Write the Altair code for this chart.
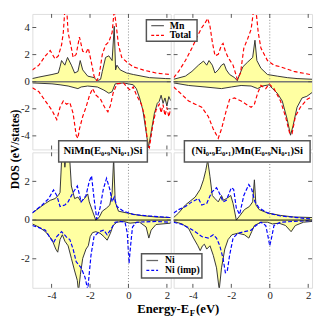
import altair as alt
import pandas as pd

# ---------------- data ----------------
XDOM = [-5, 2.2]
XTICKS = [-4, -2, 0, 2]
TOP_YDOM = [-5, 5]
TOP_YTICKS = [-4, -2, 0, 2, 4]
BOT_YDOM = [-3.5, 3.5]
BOT_YTICKS = [-2, 0, 2]

# top-left: NiMn(E0.9Ni0.1)Si, Mn PDOS and Total
tl_mn_up_e = [-5.0, -4.66, -3.98, -3.65, -3.56, -3.48, -3.31, -3.17, -2.97, -2.80, -2.63, -2.51, -2.38, -2.12, -1.79, -1.62, -1.45, -1.36, -1.19, -1.02, -0.85, -0.74, -0.67, -0.60, -0.43, -0.09, 0.25, 1.09, 1.94, 2.2]
tl_mn_up_d = [0.23, 0.34, 0.53, 0.64, 1.10, 1.56, 1.22, 1.79, 1.22, 0.64, 0.76, 1.56, 0.87, 0.41, 0.30, 0.07, 0.18, 0.76, 1.79, 1.91, 1.56, 4.09, 0.87, 1.22, 0.87, 0.64, 0.53, 0.30, 0.23, 0.22]
tl_mn_dn_e = [-5.0, -3.98, -3.56, -3.14, -2.63, -2.46, -2.12, -1.62, -1.28, -1.02, -0.85, -0.69, -0.26, -0.01, 0.25, 0.41, 0.58, 0.75, 0.92, 1.04, 1.18, 1.35, 1.50, 1.6, 1.7, 1.8, 1.9, 2.0, 2.1, 2.2]
tl_mn_dn_d = [-0.09, -0.16, -0.23, -0.32, -0.51, -0.39, -0.32, -0.39, -0.62, -0.85, -0.74, -0.16, -0.09, -0.16, -0.23, -0.51, -1.20, -2.11, -3.72, -4.87, -3.72, -2.34, -1.6, -1.45, -1.0, -1.6, -1.2, -1.8, -1.1, -1.4]
tl_tot_up_e = [-5.0, -4.66, -4.32, -4.07, -3.82, -3.65, -3.48, -3.39, -3.31, -3.21, -3.14, -2.97, -2.88, -2.72, -2.55, -2.38, -2.21, -2.09, -1.95, -1.79, -1.65, -1.53, -1.36, -1.19, -1.02, -0.85, -0.74, -0.63, -0.52, -0.35, -0.09, 0.25, 0.75, 1.43, 2.2]
tl_tot_up_d = [0.87, 1.22, 1.91, 2.30, 1.68, 1.91, 2.71, 3.63, 5.3, 5.3, 3.63, 2.48, 1.79, 2.02, 3.29, 2.25, 2.14, 2.48, 1.56, 0.41, 0.07, 0.41, 2.02, 2.71, 2.94, 3.63, 5.3, 4.09, 2.71, 1.79, 1.45, 1.10, 0.87, 0.64, 0.52]
tl_tot_dn_e = [-5.0, -4.66, -4.32, -3.98, -3.73, -3.56, -3.39, -3.22, -3.05, -2.88, -2.72, -2.63, -2.55, -2.38, -2.21, -2.04, -1.87, -1.70, -1.45, -1.24, -1.07, -0.94, -0.80, -0.60, -0.26, -0.01, 0.11, 0.25, 0.41, 0.67, 0.84, 1.01, 1.09, 1.26, 1.43, 1.6, 1.7, 1.8, 1.9, 2.0, 2.1, 2.2]
tl_tot_dn_d = [-0.44, -0.74, -1.43, -2.11, -2.80, -1.89, -1.43, -1.66, -1.54, -2.34, -3.95, -4.18, -3.49, -2.57, -1.89, -1.08, -0.51, -0.97, -1.31, -1.89, -2.23, -1.77, -0.85, -0.16, -0.09, -0.51, -0.62, -0.39, -0.97, -1.66, -2.57, -4.64, -4.87, -3.26, -2.11, -1.66, -2.3, -1.7, -2.5, -1.9, -2.6, -2.0]

# top-right: (Ni0.9E0.1)Mn(E0.9Ni0.1)Si, Mn PDOS and Total
tr_mn_up_e = [-5.0, -4.39, -4.05, -3.71, -3.45, -3.28, -3.16, -2.99, -2.85, -2.68, -2.51, -2.38, -2.26, -2.09, -1.83, -1.69, -1.57, -1.40, -1.15, -0.89, -0.77, -0.67, -0.46, -0.12, 0.39, 0.91, 1.42, 2.2]
tr_mn_up_d = [0.18, 0.41, 0.76, 1.22, 1.52, 1.22, 1.56, 1.22, 0.64, 0.87, 1.22, 1.33, 0.87, 0.53, 0.30, 0.07, 0.53, 1.10, 1.45, 1.79, 3.06, 1.56, 0.99, 0.53, 0.41, 0.30, 0.23, 0.18]
tr_mn_dn_e = [-5.0, -4.22, -3.37, -2.51, -2.0, -1.49, -0.97, -0.63, -0.38, -0.03, 0.14, 0.39, 0.65, 0.91, 1.08, 1.21, 1.42, 1.68, 1.93, 2.2]
tr_mn_dn_d = [-0.09, -0.28, -0.39, -0.51, -0.39, -0.28, -0.32, -0.51, -0.32, -0.23, -0.51, -0.85, -1.43, -2.80, -3.95, -3.26, -1.89, -1.20, -1.08, -0.8]
tr_tot_up_e = [-5.0, -4.74, -4.39, -4.05, -3.79, -3.54, -3.37, -3.23, -3.11, -2.99, -2.85, -2.68, -2.51, -2.43, -2.31, -2.17, -1.91, -1.69, -1.52, -1.35, -1.15, -0.97, -0.84, -0.72, -0.60, -0.46, -0.12, 0.22, 0.56, 1.25, 2.10, 2.2]
tr_tot_up_d = [0.30, 0.76, 1.56, 2.48, 3.29, 3.98, 4.32, 4.67, 4.09, 2.94, 1.91, 2.02, 2.71, 2.83, 2.25, 1.79, 1.22, 0.18, 0.64, 2.48, 3.17, 3.86, 5.3, 5.3, 3.63, 2.48, 1.56, 1.22, 1.10, 0.76, 0.53, 0.52]
tr_tot_dn_e = [-5.0, -4.56, -4.22, -3.88, -3.54, -3.20, -2.94, -2.68, -2.51, -2.26, -2.09, -1.83, -1.49, -1.23, -0.97, -0.80, -0.63, -0.46, -0.21, -0.03, 0.22, 0.56, 0.82, 1.04, 1.16, 1.33, 1.59, 1.93, 2.2]
tr_tot_dn_d = [-0.39, -0.97, -1.43, -1.66, -1.89, -2.57, -3.49, -4.18, -3.49, -2.11, -1.31, -1.20, -1.43, -1.66, -1.89, -1.66, -0.85, -0.28, -0.51, -0.16, -0.51, -1.43, -2.57, -3.84, -3.84, -2.57, -1.89, -1.31, -1.1]

# bottom-left: Ni PDOS and Ni (imp)
bl_ni_up_e = [-5.0, -4.66, -4.32, -4.07, -3.82, -3.65, -3.56, -3.48, -3.39, -3.31, -3.19, -3.05, -2.97, -2.80, -2.63, -2.46, -2.29, -2.12, -2.04, -1.87, -1.70, -1.53, -1.36, -1.14, -0.97, -0.85, -0.77, -0.69, -0.52, -0.09, 0.58, 1.43, 2.2]
bl_ni_up_d = [0.37, 0.62, 0.86, 1.02, 1.11, 1.27, 1.43, 3.06, 3.9, 2.73, 3.9, 3.06, 1.76, 1.11, 1.19, 0.94, 1.11, 1.35, 0.94, 0.46, 0.0, 0.13, 0.46, 0.62, 0.78, 1.43, 3.22, 0.94, 0.46, 0.37, 0.24, 0.16, 0.13]
bl_ni_dn_e = [-5.0, -4.66, -4.32, -3.98, -3.78, -3.68, -3.56, -3.44, -3.31, -3.14, -2.97, -2.80, -2.66, -2.60, -2.50, -2.38, -2.21, -2.09, -1.99, -1.87, -1.70, -1.48, -1.28, -1.11, -0.94, -0.80, -0.60, -0.26, 0.08, 0.58, 0.92, 1.06, 1.18, 1.43, 2.2]
bl_ni_dn_d = [-0.20, -0.36, -0.60, -1.01, -1.50, -1.66, -1.01, -0.76, -1.09, -1.33, -1.98, -2.63, -3.12, -3.7, -2.80, -1.98, -1.50, -1.33, -0.85, -0.65, -0.60, -0.68, -0.85, -1.04, -0.68, -0.28, -0.11, -0.07, -0.16, -0.11, -0.36, -0.93, -0.52, -0.23, -0.16]
bl_imp_up_e = [-5.0, -4.49, -4.15, -3.90, -3.73, -3.56, -3.31, -3.14, -2.88, -2.66, -2.46, -2.21, -2.04, -1.92, -1.79, -1.65, -1.48, -1.31, -1.14, -0.97, -0.85, -0.74, -0.60, -0.26, 0.25, 1.09, 2.2]
bl_imp_up_d = [0.37, 0.78, 1.11, 1.56, 1.27, 0.70, 0.78, 0.94, 1.43, 1.76, 0.94, 1.27, 2.00, 2.28, 1.11, 0.05, 0.62, 1.59, 2.16, 1.59, 0.94, 1.19, 0.70, 0.46, 0.29, 0.21, 0.13]
bl_imp_dn_e = [-5.0, -4.66, -4.32, -4.07, -3.90, -3.73, -3.48, -3.22, -3.05, -2.88, -2.72, -2.46, -2.26, -2.12, -1.95, -1.79, -1.53, -1.28, -1.11, -0.94, -0.69, -0.43, -0.18, -0.06, 0.03, 0.11, 0.21, 0.41, 1.43, 2.2]
bl_imp_dn_d = [-0.28, -0.39, -0.52, -0.93, -1.17, -0.85, -0.60, -0.88, -1.01, -1.50, -2.15, -2.47, -2.96, -3.6, -1.82, -0.85, -0.60, -0.52, -0.76, -0.52, -0.11, -0.07, -0.11, -0.68, -2.23, -1.33, -0.36, -0.11, -0.07, -0.11]

# bottom-right: Ni PDOS and Ni (imp)
br_ni_up_e = [-5.0, -4.74, -4.39, -4.14, -3.88, -3.62, -3.45, -3.33, -3.23, -3.11, -2.99, -2.85, -2.68, -2.51, -2.41, -2.26, -2.03, -1.91, -1.74, -1.57, -1.32, -1.06, -0.89, -0.80, -0.72, -0.55, -0.12, 0.56, 1.25, 2.2]
br_ni_up_d = [0.13, 0.37, 0.78, 0.98, 1.19, 1.59, 2.08, 2.57, 3.1, 2.24, 1.27, 1.11, 0.94, 1.27, 1.02, 1.11, 1.27, 0.86, 0.0, 0.21, 0.54, 0.70, 0.94, 2.08, 0.78, 0.54, 0.37, 0.24, 0.16, 0.13]
br_ni_dn_e = [-5.0, -4.56, -4.22, -3.97, -3.74, -3.62, -3.50, -3.40, -3.28, -3.11, -2.94, -2.77, -2.63, -2.51, -2.34, -2.17, -1.97, -1.66, -1.32, -1.09, -0.94, -0.80, -0.46, -0.12, 0.14, 0.48, 0.82, 1.11, 1.33, 1.76, 2.2]
br_ni_dn_d = [-0.07, -0.20, -0.44, -0.93, -1.33, -1.58, -1.33, -1.25, -1.50, -1.33, -1.82, -2.47, -3.6, -2.47, -1.50, -1.01, -0.76, -0.68, -0.76, -0.93, -0.60, -0.28, -0.11, -0.11, -0.20, -0.16, -0.28, -0.60, -0.28, -0.11, -0.07]
br_imp_up_e = [-5.0, -4.74, -4.39, -4.05, -3.71, -3.54, -3.28, -3.03, -2.77, -2.60, -2.43, -2.26, -2.0, -1.88, -1.74, -1.57, -1.35, -1.09, -0.94, -0.77, -0.55, -0.12, 0.56, 1.42, 2.2]
br_imp_up_d = [0.37, 0.54, 0.70, 0.94, 1.11, 0.78, 0.86, 1.43, 1.67, 1.35, 0.94, 1.02, 1.67, 1.59, 0.62, 0.29, 1.27, 1.84, 1.59, 0.94, 0.62, 0.37, 0.21, 0.13, 0.05]
br_imp_dn_e = [-5.0, -4.56, -4.22, -3.88, -3.54, -3.20, -2.94, -2.77, -2.60, -2.43, -2.31, -2.21, -2.09, -1.91, -1.66, -1.32, -0.97, -0.72, -0.46, -0.21, -0.09, 0.0, 0.09, 0.22, 0.56, 1.25, 2.2]
br_imp_dn_d = [-0.11, -0.23, -0.39, -0.60, -0.85, -0.93, -0.76, -0.93, -1.33, -1.98, -2.72, -2.63, -1.82, -0.93, -0.68, -0.60, -0.52, -0.28, -0.11, -0.28, -0.85, -1.33, -0.93, -0.28, -0.11, -0.07, -0.03]

TITLE_1 = "NiMn(E₀.₉Ni₀.₁)Si"
TITLE_2 = "(Ni₀.₉E₀.₁)Mn(E₀.₉Ni₀.₁)Si"
Y_TITLE = "DOS (eV/states)"

# ---------------- styling ----------------
W, H, GAP = 142, 139, 3
SERIF = "Liberation Serif"
FRAME = "#555555"
FILL = "#ffffa2"
RED = "#ff0000"
BLUE = "#0000ff"
ONE = pd.DataFrame({"v": [0]})


def build_df(pairs):
    frames = [pd.DataFrame({"E": e, "D": d, "curve": name, "kind": kind}) for name, kind, e, d in pairs]
    return pd.concat(frames, ignore_index=True)


def box(x1, x2, y1, y2):
    return alt.Chart(ONE).mark_rect(fill="white", stroke=FRAME, strokeWidth=1.5).encode(
        x=alt.value(x1), x2=alt.value(x2), y=alt.value(y1), y2=alt.value(y2))


def label(txt, x, y, size=11, align="left", angle=0, baseline="middle"):
    return alt.Chart(ONE).mark_text(text=txt, font=SERIF, fontWeight="bold", fontSize=size,
                                    align=align, baseline=baseline, color="black", angle=angle).encode(
        x=alt.value(x), y=alt.value(y))


def seg(x1, x2, y, color, dash=None):
    kw = dict(color=color, strokeWidth=1.3)
    if dash:
        kw["strokeDash"] = dash
    return alt.Chart(ONE).mark_rule(**kw).encode(x=alt.value(x1), x2=alt.value(x2), y=alt.value(y))


def panel(df, ydom, yticks, ref_color, ref_dash, zero_color, zero_width, show_x, show_y, extras):
    xsc = alt.Scale(domain=XDOM, nice=False, zero=False)
    ysc = alt.Scale(domain=ydom, nice=False, zero=False)
    common = dict(ticks=False, domain=False, grid=False, labelFontSize=11, labelColor="#222222",
                  labelFont=SERIF, labelExpr="'' + datum.value", minExtent=0, labelFlush=False, title=None)
    xax = alt.Axis(values=XTICKS, labelPadding=2, **common) if show_x else None
    yax = alt.Axis(values=yticks, labelPadding=3, **common) if show_y else None

    def X(f):
        return alt.X(f, type="quantitative", scale=xsc, axis=xax)

    def Y(f):
        return alt.Y(f, type="quantitative", scale=ysc, axis=yax, stack=None)

    base = alt.Chart(df)
    area = base.transform_filter(alt.datum.kind == "p").mark_area(color=FILL, clip=True).encode(
        x=X("E"), y=Y("D"), detail="curve:N")
    pline = base.transform_filter(alt.datum.kind == "p").mark_line(color="#333333", strokeWidth=1, clip=True).encode(
        x=X("E"), y=Y("D"), detail="curve:N")
    rline = base.transform_filter(alt.datum.kind == "r").mark_line(
        color=ref_color, strokeDash=ref_dash, strokeWidth=1.2, clip=True).encode(
        x=X("E"), y=Y("D"), detail="curve:N")
    zero = alt.Chart(ONE).mark_rule(color=zero_color, strokeWidth=zero_width).encode(y=Y("v"))
    vline = alt.Chart(ONE).mark_rule(color="#888888", strokeDash=[1, 2], strokeWidth=1).encode(x=X("v"))
    xt = pd.DataFrame({"v": XTICKS})
    yt = pd.DataFrame({"v": yticks})
    tk = dict(color=FRAME, strokeWidth=1)
    t_b = alt.Chart(xt).mark_rule(**tk).encode(x=X("v"), y=alt.value(H), y2=alt.value(H - 4))
    t_t = alt.Chart(xt).mark_rule(**tk).encode(x=X("v"), y=alt.value(0), y2=alt.value(4))
    t_l = alt.Chart(yt).mark_rule(**tk).encode(y=Y("v"), x=alt.value(0), x2=alt.value(4))
    t_r = alt.Chart(yt).mark_rule(**tk).encode(y=Y("v"), x=alt.value(W), x2=alt.value(W - 4))
    return alt.layer(area, pline, rline, zero, vline, t_b, t_t, t_l, t_r, *extras).properties(width=W, height=H)


df_tl = build_df([("mu", "p", tl_mn_up_e, tl_mn_up_d), ("md", "p", tl_mn_dn_e, tl_mn_dn_d),
                  ("tu", "r", tl_tot_up_e, tl_tot_up_d), ("td", "r", tl_tot_dn_e, tl_tot_dn_d)])
df_tr = build_df([("mu", "p", tr_mn_up_e, tr_mn_up_d), ("md", "p", tr_mn_dn_e, tr_mn_dn_d),
                  ("tu", "r", tr_tot_up_e, tr_tot_up_d), ("td", "r", tr_tot_dn_e, tr_tot_dn_d)])
df_bl = build_df([("nu", "p", bl_ni_up_e, bl_ni_up_d), ("nd", "p", bl_ni_dn_e, bl_ni_dn_d),
                  ("iu", "r", bl_imp_up_e, bl_imp_up_d), ("id", "r", bl_imp_dn_e, bl_imp_dn_d)])
df_br = build_df([("nu", "p", br_ni_up_e, br_ni_up_d), ("nd", "p", br_ni_dn_e, br_ni_dn_d),
                  ("iu", "r", br_imp_up_e, br_imp_up_d), ("id", "r", br_imp_dn_e, br_imp_dn_d)])

RED_DASH = [4, 2.5]
BLUE_DASH = [4, 2]

tl = panel(df_tl, TOP_YDOM, TOP_YTICKS, RED, RED_DASH, "#777777", 1.5, False, True, [])

tr_extras = [
    box(-28, 24, 6, 28),
    seg(-23, -10, 12, "#666666"),
    seg(-23, -10, 22, RED, [3, 2]),
    label("Mn", -4, 12, size=10),
    label("Total", -4, 22, size=10),
]
tr = panel(df_tr, TOP_YDOM, TOP_YTICKS, RED, RED_DASH, "#777777", 1.5, False, False, tr_extras)

bl_extras = [
    box(27, 118, -12, 10),
    label(TITLE_1, 72.5, -1, align="center"),
    label(Y_TITLE, -18, -3, size=12, align="center", angle=270),
]
bl = panel(df_bl, BOT_YDOM, BOT_YTICKS, BLUE, BLUE_DASH, "#000000", 1, True, True, bl_extras)

br_extras = [
    box(11, 140, -12, 10),
    label(TITLE_2, 75.5, -1, align="center"),
    box(-33, 29, H - 35, H - 10),
    seg(-28, -16, H - 28, "#666666"),
    seg(-28, -16, H - 18, BLUE, [3, 2]),
    label("Ni", -9, H - 28, size=10),
    label("Ni (imp)", -9, H - 18, size=10),
    label("Energy-E", 16, H + 26, size=13, align="right", baseline="alphabetic"),
    label("F", 16.5, H + 29, size=9, baseline="alphabetic"),
    label("(eV)", 23, H + 26, size=13, baseline="alphabetic"),
]
br = panel(df_br, BOT_YDOM, BOT_YTICKS, BLUE, BLUE_DASH, "#000000", 1, True, False, br_extras)

chart = alt.concat(tl, tr, bl, br, columns=2, spacing=GAP, bounds="flush").properties(
    padding={"left": 0, "top": 1, "right": 0, "bottom": 0}
).configure_view(stroke=FRAME, strokeWidth=1.5).configure(font=SERIF)

chart.save("out.html", embed_options={"renderer": "svg", "actions": False})
